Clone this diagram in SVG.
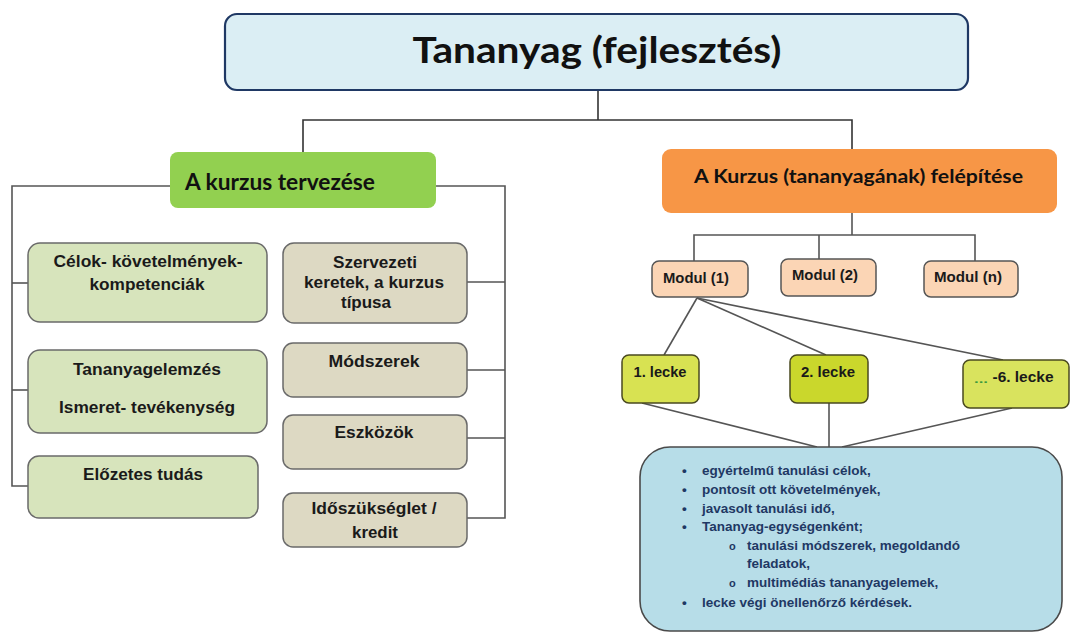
<svg xmlns="http://www.w3.org/2000/svg" width="1074" height="632" viewBox="0 0 1074 632">
  <style>
    .cal { font-family: Lato, "Open Sans", "Liberation Sans", sans-serif; font-weight: bold; fill: #111; }
    .ar { font-family: "Liberation Sans", Arial, sans-serif; font-weight: bold; fill: #1a1a1a; text-anchor: middle; }
    .lst { font-family: "Liberation Sans", Arial, sans-serif; font-weight: bold; fill: #1f3864; font-size: 13.5px; }
    .conn { fill: none; stroke: #555; stroke-width: 1.6; }
    .connd { fill: none; stroke: #333; stroke-width: 1.6; }
    .lgreen { fill: #d7e4bc; stroke: #6a6a6a; stroke-width: 1.5; }
    .tan { fill: #ddd9c3; stroke: #6a6a6a; stroke-width: 1.5; }
    .modul { fill: #fbd5b5; stroke: #555; stroke-width: 1.5; }
    .lecke { stroke: #4a4a20; stroke-width: 1.5; }
  </style>
  <rect width="1074" height="632" fill="#ffffff"/>

  <!-- connectors -->
  <g id="connectors">
    <polyline class="connd" points="598,90 598,120"/>
    <polyline class="connd" points="303,152 303,120 852,120 852,149"/>
    <!-- left branch -->
    <polyline class="conn" points="170,186 12,186 12,486 28,486"/>
    <line class="conn" x1="12" y1="283" x2="28" y2="283"/>
    <line class="conn" x1="12" y1="390" x2="28" y2="390"/>
    <polyline class="conn" points="436,186 505,186 505,518 467,518"/>
    <line class="conn" x1="467" y1="282" x2="505" y2="282"/>
    <line class="conn" x1="467" y1="370" x2="505" y2="370"/>
    <line class="conn" x1="467" y1="438" x2="505" y2="438"/>
    <!-- right branch -->
    <polyline class="conn" points="852,213 852,235"/>
    <polyline class="conn" points="694,261 694,235 975,235 975,261"/>
    <line class="conn" x1="819" y1="235" x2="819" y2="259"/>
    <line class="conn" x1="697" y1="298" x2="664" y2="355"/>
    <line class="conn" x1="697" y1="298" x2="826" y2="355"/>
    <line class="conn" x1="697" y1="298" x2="1003" y2="360"/>
    <line class="conn" x1="642" y1="403" x2="817" y2="447"/>
    <line class="conn" x1="829" y1="403" x2="829" y2="447"/>
    <line class="conn" x1="1012" y1="408" x2="842" y2="447"/>
  </g>

  <g id="root">
    <rect x="225" y="14" width="743" height="76" rx="12" fill="#dbeef4" stroke="#1f3864" stroke-width="2.2"/>
    <text class="cal" x="597" y="63" font-size="37" text-anchor="middle" textLength="369" lengthAdjust="spacingAndGlyphs">Tananyag (fejlesztés)</text>
  </g>

  <g id="tervezes">
    <rect x="170" y="152" width="266" height="56" rx="8" fill="#92d050"/>
    <text class="cal" x="185" y="190" font-size="22" textLength="190" lengthAdjust="spacingAndGlyphs">A kurzus tervezése</text>
  </g>

  <g id="felepites">
    <rect x="662" y="149" width="395" height="64" rx="9" fill="#f79646"/>
    <text class="cal" x="694" y="183" font-size="18" textLength="329" lengthAdjust="spacingAndGlyphs">A Kurzus (tananyagának) felépítése</text>
  </g>

  <g id="celok">
    <rect class="lgreen" x="28" y="243" width="239" height="79" rx="12"/>
    <text class="ar" x="148" y="267" font-size="17" textLength="189" lengthAdjust="spacingAndGlyphs">Célok- követelmények-</text>
    <text class="ar" x="147" y="290" font-size="17" textLength="115" lengthAdjust="spacingAndGlyphs">kompetenciák</text>
  </g>
  <g id="tananyagelemzes">
    <rect class="lgreen" x="28" y="350" width="239" height="83" rx="12"/>
    <text class="ar" x="147" y="375" font-size="17" textLength="148" lengthAdjust="spacingAndGlyphs">Tananyagelemzés</text>
    <text class="ar" x="147" y="413" font-size="17" textLength="176" lengthAdjust="spacingAndGlyphs">Ismeret- tevékenység</text>
  </g>
  <g id="elozetes">
    <rect class="lgreen" x="28" y="456" width="230" height="62" rx="11"/>
    <text class="ar" x="143" y="480" font-size="17" textLength="120" lengthAdjust="spacingAndGlyphs">Előzetes tudás</text>
  </g>

  <g id="szervezeti">
    <rect class="tan" x="283" y="243" width="184" height="80" rx="11"/>
    <text class="ar" x="375" y="268" font-size="17" textLength="84" lengthAdjust="spacingAndGlyphs">Szervezeti</text>
    <text class="ar" x="374" y="288" font-size="17" textLength="140" lengthAdjust="spacingAndGlyphs">keretek, a kurzus</text>
    <text class="ar" x="366" y="308" font-size="17" textLength="50" lengthAdjust="spacingAndGlyphs">típusa</text>
  </g>
  <g id="modszerek">
    <rect class="tan" x="283" y="343" width="184" height="54" rx="10"/>
    <text class="ar" x="374" y="367" font-size="17" textLength="91" lengthAdjust="spacingAndGlyphs">Módszerek</text>
  </g>
  <g id="eszkozok">
    <rect class="tan" x="283" y="415" width="184" height="54" rx="10"/>
    <text class="ar" x="374" y="438" font-size="17" textLength="79" lengthAdjust="spacingAndGlyphs">Eszközök</text>
  </g>
  <g id="idoszukseglet">
    <rect class="tan" x="283" y="493" width="184" height="54" rx="10"/>
    <text class="ar" x="374" y="514" font-size="17" textLength="125" lengthAdjust="spacingAndGlyphs">Időszükséglet /</text>
    <text class="ar" x="375" y="538" font-size="17" textLength="46" lengthAdjust="spacingAndGlyphs">kredit</text>
  </g>

  <g id="modul1">
    <rect class="modul" x="652" y="261" width="96" height="36" rx="7"/>
    <text class="ar" x="696" y="283" font-size="15" textLength="66" lengthAdjust="spacingAndGlyphs">Modul (1)</text>
  </g>
  <g id="modul2">
    <rect class="modul" x="781" y="259" width="95" height="37" rx="7"/>
    <text class="ar" x="825" y="280" font-size="15" textLength="66" lengthAdjust="spacingAndGlyphs">Modul (2)</text>
  </g>
  <g id="moduln">
    <rect class="modul" x="924" y="261" width="94" height="36" rx="7"/>
    <text class="ar" x="968" y="282" font-size="15" textLength="68" lengthAdjust="spacingAndGlyphs">Modul (n)</text>
  </g>

  <g id="lecke1">
    <rect class="lecke" x="622" y="355" width="77" height="48" rx="7" fill="#d8e252"/>
    <text class="ar" x="660" y="377" font-size="15" textLength="53" lengthAdjust="spacingAndGlyphs">1. lecke</text>
  </g>
  <g id="lecke2">
    <rect class="lecke" x="790" y="355" width="78" height="48" rx="7" fill="#cad72c"/>
    <text class="ar" x="828" y="377" font-size="15" textLength="54" lengthAdjust="spacingAndGlyphs">2. lecke</text>
  </g>
  <g id="lecke6">
    <rect class="lecke" x="963" y="360" width="106" height="48" rx="7" fill="#d9e35e"/>
    <text class="ar" x="981" y="383" font-size="11" fill="#3d9a3d" textLength="14" lengthAdjust="spacingAndGlyphs" style="fill:#3d9a3d">...</text>
    <text class="ar" x="1023" y="382" font-size="15" textLength="61" lengthAdjust="spacingAndGlyphs">-6. lecke</text>
  </g>

  <g id="jellemzok">
    <rect x="640" y="447" width="422" height="184" rx="30" fill="#b7dde8" stroke="#4a4a4a" stroke-width="1.6"/>
    <g class="lst">
      <text x="682" y="475">•</text><text x="702" y="475">egyértelmű tanulási célok,</text>
      <text x="682" y="494">•</text><text x="702" y="494">pontosít ott követelmények,</text>
      <text x="682" y="513">•</text><text x="702" y="513">javasolt tanulási idő,</text>
      <text x="682" y="531">•</text><text x="702" y="531">Tananyag-egységenként;</text>
      <text x="729" y="550" style="font-size:11px">o</text><text x="747" y="550">tanulási módszerek, megoldandó</text>
      <text x="747" y="568">feladatok,</text>
      <text x="729" y="587" style="font-size:11px">o</text><text x="747" y="587">multimédiás tananyagelemek,</text>
      <text x="682" y="607">•</text><text x="702" y="607">lecke végi önellenőrző kérdések.</text>
    </g>
  </g>
</svg>
